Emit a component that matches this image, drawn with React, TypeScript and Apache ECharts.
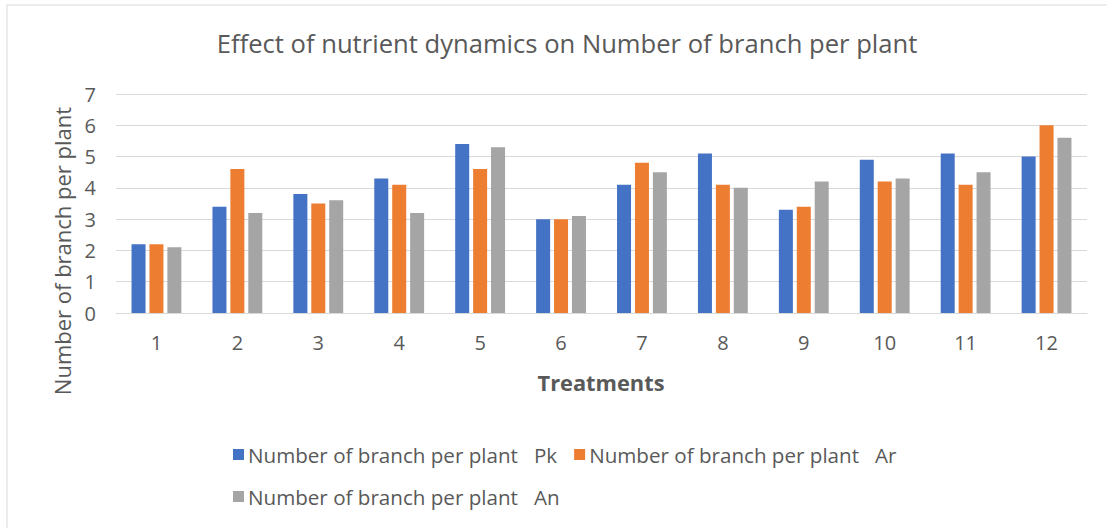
import React, { useEffect, useRef } from "react";
import * as echarts from "echarts";

const categories = ["1", "2", "3", "4", "5", "6", "7", "8", "9", "10", "11", "12"];
const seriesNames = [
  "Number of branch per plant\u00a0\u00a0\u00a0Pk",
  "Number of branch per plant\u00a0\u00a0\u00a0Ar",
  "Number of branch per plant\u00a0\u00a0\u00a0An",
];
const pkValues = [2.2, 3.4, 3.8, 4.3, 5.4, 3.0, 4.1, 5.1, 3.3, 4.9, 5.1, 5.0];
const arValues = [2.2, 4.6, 3.5, 4.1, 4.6, 3.0, 4.8, 4.1, 3.4, 4.2, 4.1, 6.0];
const anValues = [2.1, 3.2, 3.6, 3.2, 5.3, 3.1, 4.5, 4.0, 4.2, 4.3, 4.5, 5.6];
const colors = ["#4472C4", "#ED7D31", "#A5A5A5"];

const FONT = "'Open Sans', sans-serif";
const TXT = "#595959";

export default function App() {
  const ref = useRef<HTMLDivElement>(null);
  useEffect(() => {
    if (!ref.current) return;
    const chart = echarts.init(ref.current, undefined, { renderer: "svg" });
    const values = [pkValues, arValues, anValues];
    const legendText = { fontFamily: FONT, fontSize: 20.6, color: TXT, padding: [0, 0, 0, -1] };
    chart.setOption({
      animation: false,
      backgroundColor: "#ffffff",
      textStyle: { fontFamily: FONT },
      title: {
        text: "Effect of nutrient dynamics on Number of branch per plant",
        left: 562,
        top: 25,
        textAlign: "center",
        textStyle: { fontFamily: FONT, fontSize: 25.6, fontWeight: "normal", color: TXT },
      },
      legend: [
        {
          data: [seriesNames[0], seriesNames[1]],
          left: 228,
          top: 439,
          itemWidth: 11,
          itemHeight: 11,
          itemGap: 17,
          icon: "rect",
          textStyle: legendText,
        },
        {
          data: [seriesNames[2]],
          left: 228,
          top: 481,
          itemWidth: 11,
          itemHeight: 11,
          icon: "rect",
          textStyle: legendText,
        },
      ],
      grid: { left: 116, right: 20, top: 94, bottom: 215, containLabel: false },
      xAxis: {
        type: "category",
        data: categories,
        axisLine: { lineStyle: { color: "#D9D9D9", width: 1 } },
        axisTick: { show: false },
        axisLabel: { fontFamily: FONT, fontSize: 20, color: TXT, margin: 19 },
      },
      yAxis: {
        type: "value",
        min: 0,
        max: 7,
        interval: 1,
        axisLine: { show: false },
        axisTick: { show: false },
        splitLine: { lineStyle: { color: "#D9D9D9", width: 1 } },
        axisLabel: { fontFamily: FONT, fontSize: 20, color: TXT, margin: 20 },
      },
      graphic: [
        {
          type: "rect",
          shape: { x: 7, y: 5, width: 1120, height: 540 },
          style: { fill: "none", stroke: "#D9D9D9", lineWidth: 1 },
          silent: true,
          z: -1,
        },
        {
          type: "text",
          x: 62,
          y: 251,
          rotation: Math.PI / 2,
          style: {
            text: "Number of branch per plant",
            fontFamily: FONT,
            fontSize: 22,
            fill: TXT,
            align: "center",
            verticalAlign: "middle",
          },
        },
        {
          type: "text",
          x: 601,
          y: 382,
          style: {
            text: "Treatments",
            fontFamily: FONT,
            fontSize: 21.8,
            fontWeight: "bold",
            fill: TXT,
            align: "center",
            verticalAlign: "middle",
          },
        },
      ],
      series: seriesNames.map((name, i) => ({
        name,
        type: "bar",
        data: values[i],
        barWidth: 14,
        barGap: "28%",
        itemStyle: { color: colors[i] },
      })),
    });
    return () => chart.dispose();
  }, []);
  return (
    <div
      ref={ref}
      style={{ position: "absolute", left: 0, top: 0, width: 1107, height: 528 }}
    />
  );
}
